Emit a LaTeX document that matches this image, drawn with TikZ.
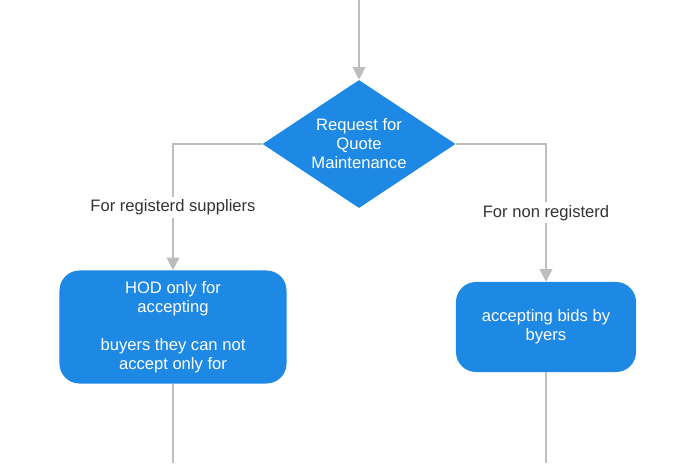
\documentclass[tikz,border=0pt]{standalone}
\usepackage{fontspec}
\setmainfont{Liberation Sans}
\usetikzlibrary{arrows.meta, positioning, shapes.geometric}
\definecolor{boxblue}{HTML}{1E88E5}
\definecolor{linegray}{HTML}{BDBDBD}
\definecolor{labelgray}{HTML}{333333}
\begin{document}
\begin{tikzpicture}[
			x=0.025cm, y=-0.025cm,
			decision/.style={diamond, aspect=1.5, fill=boxblue, text=white, minimum width=4.825cm, minimum height=3.2cm, inner sep=0pt, align=center, font=\fontsize{11.8}{13.5}\selectfont},
			process/.style={rectangle, rounded corners=0.5cm, fill=boxblue, text=white, align=center, inner sep=0pt, font=\fontsize{11.8}{13.5}\selectfont},
			flow/.style={draw=linegray, line width=1pt},
			lbl/.style={fill=white, text=labelgray, inner sep=2pt, font=\fontsize{11.8}{13.5}\selectfont},
			>={Triangle[width=9pt, length=9pt]}
			]
			\useasboundingbox (0,0) rectangle (679,463);
			\coordinate (top) at (359,0);
			\node[decision] (rfq) at (359,144) {Request for\\Quote\\Maintenance};
			\node[process, minimum width=5.675cm, minimum height=2.825cm] (registered) at (173,327) {HOD only for\\accepting\\[13.5pt]buyers they can not\\accept only for};
			\node[process, minimum width=4.5cm, minimum height=2.25cm] (nonregistered) at (546,327) {accepting bids by\\byers};
			\coordinate (regend) at (173,463);
			\coordinate (nonregend) at (546,463);
			
			% connectors
			\draw[flow, ->, color=linegray] (top) -- (rfq.north);
			\draw[flow, ->, color=linegray] (rfq.west) -| node[lbl, pos=0.75] {For registerd suppliers} (registered.north);
			\draw[flow, ->, color=linegray] (rfq.east) -| node[lbl, pos=0.75] {For non registerd} (nonregistered.north);
			\draw[flow] (registered.south) -- (regend);
			\draw[flow] (nonregistered.south) -- (nonregend);
		\end{tikzpicture}
\end{document}
